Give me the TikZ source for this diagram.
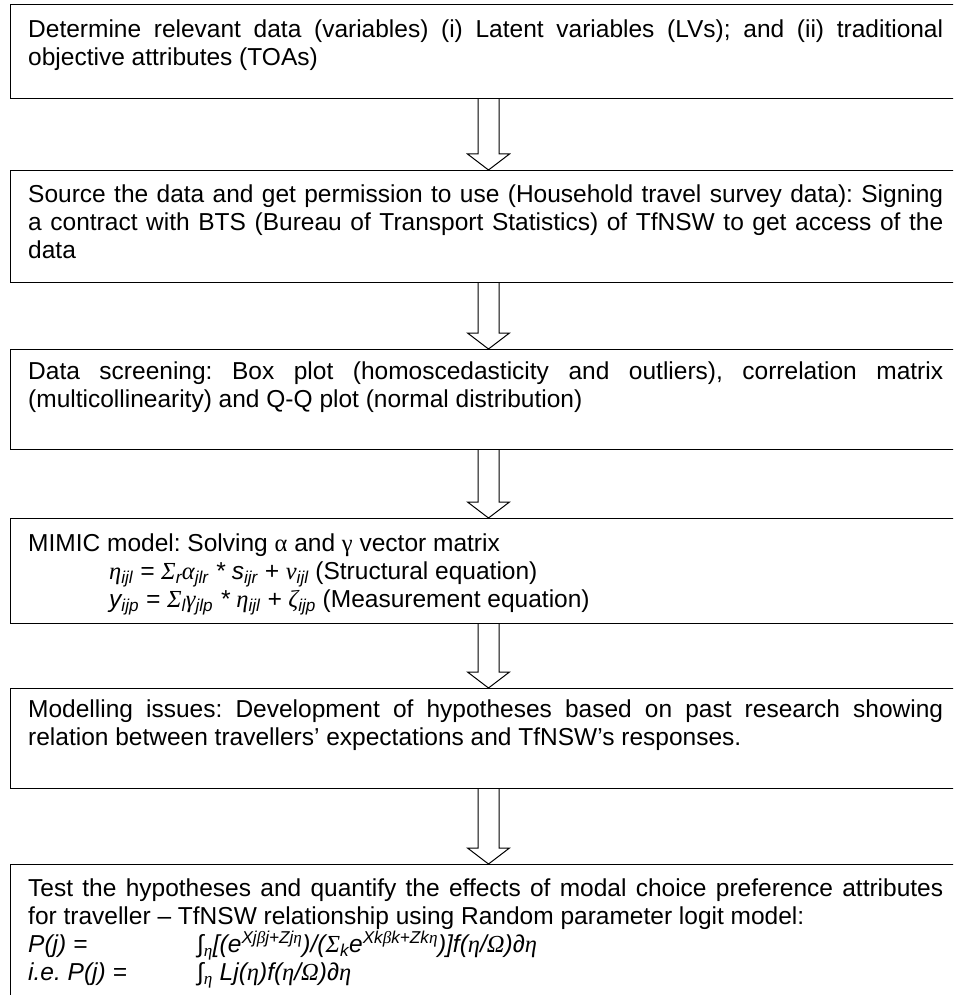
\documentclass[tikz,border=0pt]{standalone}
\usepackage{fontspec}
\setmainfont{Liberation Sans}
\newfontfamily\greekfont{Liberation Serif}
\usepackage{tikz}
\usetikzlibrary{calc}

\newcommand{\gk}[1]{{\greekfont #1}}
\hyphenpenalty=10000
\exhyphenpenalty=10000
\tolerance=9999
\frenchspacing

\begin{document}
\begin{tikzpicture}[x=1pt, y=-1pt,
    stepbox/.style={draw, line width=1pt, anchor=north west, inner sep=0pt, minimum width=956pt},
    steptext/.style={anchor=north west, inner sep=0pt, text width=915pt, align=justify,
        font=\fontsize{24.5}{28}\selectfont},
    flow/.style={line width=1pt, to path={($(\tikztostart.south)+(-10.5,0)$) -- ($(\tikztotarget.north)+(-10.5,-16)$)
        -- ($(\tikztotarget.north)+(-21,-16)$) -- (\tikztotarget.north) -- ($(\tikztotarget.north)+(21,-16)$)
        -- ($(\tikztotarget.north)+(10.5,-16)$) -- ($(\tikztostart.south)+(10.5,0)$)}}]
    \useasboundingbox (0,0) rectangle (953,995);
    \clip (0,0) rectangle (953,995);

    \node[stepbox, minimum height=94pt] (b1) at (10,4) {};
    \node[stepbox, minimum height=112pt] (b2) at (10,170) {};
    \node[stepbox, minimum height=100pt] (b3) at (10,349) {};
    \node[stepbox, minimum height=105pt] (b4) at (10,518) {};
    \node[stepbox, minimum height=100pt] (b5) at (10,688) {};
    \node[stepbox, minimum height=160pt] (b6) at (10,864) {};

    \node[steptext] (t1) at (28,20) {Determine relevant data (variables) (i) Latent variables (LVs); and (ii) traditional\linebreak objective attributes (TOAs)};
    \node[steptext] (t2) at (28,184.5) {Source the data and get permission to use (Household travel survey data): Signing\linebreak a contract with BTS (Bureau of Transport Statistics) of TfNSW to get access of the\linebreak data};
    \node[steptext] (t3) at (28,362) {Data screening: Box plot (homoscedasticity and outliers), correlation matrix\linebreak (multicollinearity) and Q-Q plot (normal distribution)};
    \node[steptext] (t4) at (28,533.5) {MIMIC model: Solving \gk{α} and \gk{γ} vector matrix\\
        \hspace*{81pt}\textit{\gk{η}\textsubscript{ijl} = \gk{Σ}\textsubscript{r}\gk{α}\textsubscript{jlr} * s\textsubscript{ijr} + \gk{ν}\textsubscript{ijl}} (Structural equation)\\
        \hspace*{81pt}\textit{y\textsubscript{ijp} = \gk{Σ}\textsubscript{l}\gk{γ}\textsubscript{jlp} * \gk{η}\textsubscript{ijl} + \gk{ζ}\textsubscript{ijp}} (Measurement equation)};
    \node[steptext] (t5) at (28,700) {Modelling issues: Development of hypotheses based on past research showing\linebreak relation between travellers’ expectations and TfNSW’s responses.};
    \node[steptext] (t6) at (28,879) {Test the hypotheses and quantify the effects of modal choice preference attributes\linebreak for traveller – TfNSW relationship using Random parameter logit model:\\
        \makebox[169pt][l]{\textit{P(j) =}}\textit{∫\textsubscript{\gk{η}}[(e\textsuperscript{Xj\gk{β}j+Zj\gk{η}})/(\gk{Σ}\textsubscript{k}e\textsuperscript{Xk\gk{β}k+Zk\gk{η}})]f(\gk{η}/\gk{Ω})∂\gk{η}}\\
        \makebox[169pt][l]{\textit{i.e. P(j) =}}\textit{∫\textsubscript{\gk{η}} Lj(\gk{η})f(\gk{η}/\gk{Ω})∂\gk{η}}};

    \draw[flow] (b1) to (b2);
    \draw[flow] (b2) to (b3);
    \draw[flow] (b3) to (b4);
    \draw[flow] (b4) to (b5);
    \draw[flow] (b5) to (b6);
\end{tikzpicture}
\end{document}
